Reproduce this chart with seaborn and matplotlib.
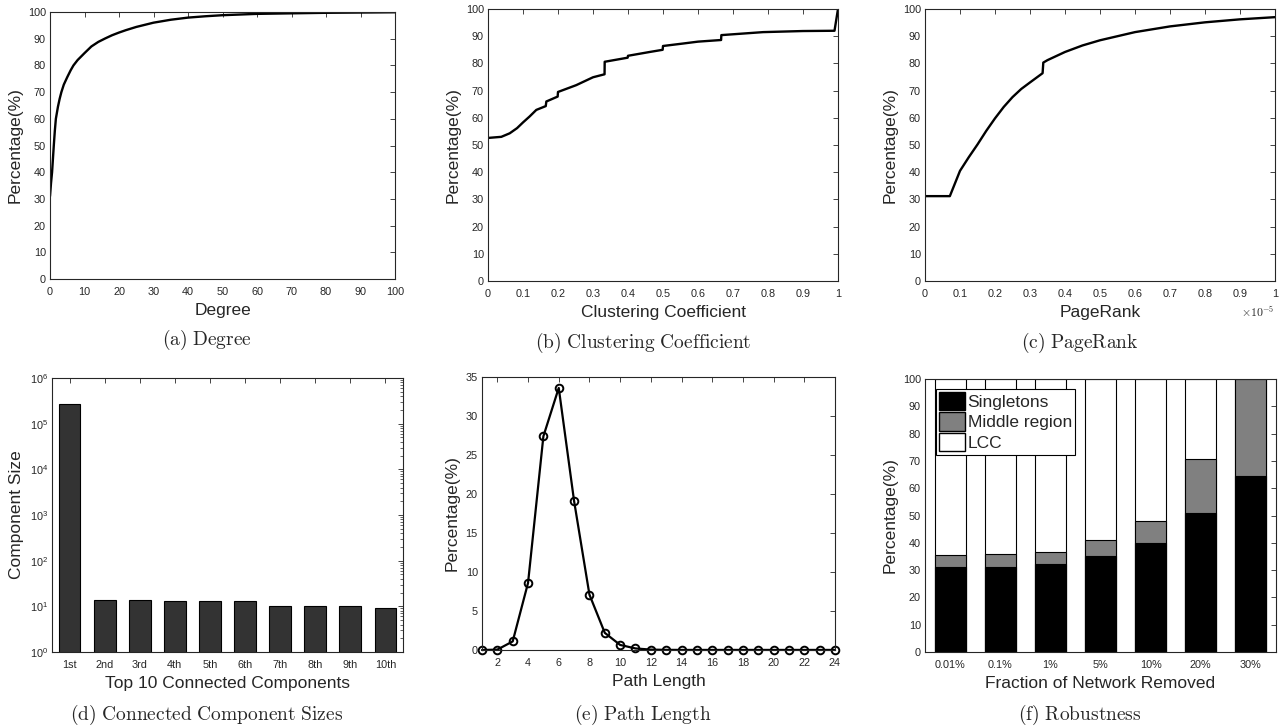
import numpy as np
import matplotlib
matplotlib.use("Agg")
import matplotlib.pyplot as plt
import seaborn as sns
from matplotlib.patches import Patch
from matplotlib.ticker import FuncFormatter, MultipleLocator

# (a) degree CDF
degree_x = [0, 0.3, 0.6, 0.85, 1.1, 1.4, 1.7, 2.3, 2.8, 3.3, 4, 5, 6, 6.8, 8, 10, 12, 14, 16, 18,
            20, 22, 25, 30, 35, 40, 45, 50, 60, 70, 80, 90, 100]
degree_y = [31, 36, 40, 45, 50, 55.5, 60, 64.5, 67.5, 70, 72.8, 75.6, 78.2, 80, 82, 84.6, 87.1, 88.8,
            90.1, 91.3, 92.3, 93.2, 94.4, 96.0, 97.1, 97.9, 98.4, 98.8, 99.3, 99.5, 99.7, 99.8, 99.9]

# (b) clustering coefficient CDF (steps at 1/6, 1/5, 1/3, 2/5, 1/2, 2/3, 1)
cc_x = [0, 0.038, 0.062, 0.083, 0.1, 0.119, 0.138, 0.165, 0.1667, 0.199, 0.2, 0.252, 0.3,
        0.333, 0.3334, 0.386, 0.399, 0.4, 0.462, 0.499, 0.5, 0.557, 0.6, 0.666, 0.6667,
        0.786, 0.9, 0.99, 1.0]
cc_y = [52.6, 53.0, 54.3, 56.2, 58.3, 60.5, 62.9, 64.3, 66.0, 67.8, 69.5, 72.0, 74.9,
        76.0, 80.6, 81.8, 82.1, 82.8, 84.2, 85.0, 86.4, 87.3, 88.0, 88.6, 90.4,
        91.5, 91.9, 92.0, 100]

# (c) pagerank CDF, x in units of 1e-5
pr_x = [0, 0.071, 0.1, 0.125, 0.15, 0.175, 0.2, 0.225, 0.25, 0.275, 0.3, 0.336, 0.338,
        0.35, 0.4, 0.45, 0.5, 0.6, 0.7, 0.8, 0.9, 1.0]
pr_y = [31.2, 31.2, 40.5, 45.5, 50.2, 55.2, 59.8, 64.0, 67.6, 70.6, 73.0, 76.4, 80.3,
        81.2, 84.2, 86.6, 88.5, 91.5, 93.6, 95.1, 96.2, 97.0]

# (d) top-10 connected component sizes
comp_labels = ["1st", "2nd", "3rd", "4th", "5th", "6th", "7th", "8th", "9th", "10th"]
comp_sizes = [270000, 14, 14, 13, 13, 13, 10, 10, 10, 9]

# (e) path length distribution
path_len = list(range(1, 25))
path_pct = [0, 0.05, 1.1, 8.6, 27.4, 33.6, 19.1, 7.1, 2.2, 0.65, 0.2, 0.05,
            0.02, 0.01, 0.01, 0.01, 0.01, 0.01, 0.01, 0.01, 0.01, 0.01, 0.01, 0.01]

# (f) robustness
removed = ["0.01%", "0.1%", "1%", "5%", "10%", "20%", "30%"]
singletons = [31.3, 31.3, 32.1, 35.3, 39.8, 50.8, 64.6]
middle_top = [35.7, 35.9, 36.8, 41.0, 48.1, 70.7, 100]
lcc_top = [100, 100, 100, 100, 100, 100, 100]

sns.set_theme(style="white")
plt.rcParams["font.family"] = ["Liberation Sans", "DejaVu Sans"]
plt.rcParams["mathtext.fontset"] = "cm"
plt.rcParams["axes.edgecolor"] = "#262626"
plt.rcParams["axes.linewidth"] = 0.8

W, H = 1283, 728
fig = plt.figure(figsize=(W / 100, H / 100), dpi=100)


def box(left, top, right, bottom):
    return fig.add_axes([left / W, 1 - bottom / H, (right - left) / W, (bottom - top) / H])


def matlab_style(ax):
    ax.tick_params(direction="in", top=True, right=True, length=3.5, width=0.6,
                   labelsize=7.8, colors="#262626", pad=3)
    ax.tick_params(axis="x", pad=6)
    ax.tick_params(which="minor", direction="in", top=False, right=True, length=2, width=0.5)
    for s in ax.spines.values():
        s.set_color("#262626")
        s.set_linewidth(0.8)


num_fmt = FuncFormatter(lambda v, _: f"{v:g}")
LABEL_SIZE = 12.5

# (a)
ax = box(50, 12, 395, 279)
sns.lineplot(x=degree_x, y=degree_y, estimator=None, sort=False, color="black", linewidth=1.7, ax=ax)
ax.set_xlim(0, 100)
ax.set_ylim(0, 100)
ax.xaxis.set_major_locator(MultipleLocator(10))
ax.yaxis.set_major_locator(MultipleLocator(10))
ax.set_xlabel("Degree", fontsize=LABEL_SIZE)
ax.set_ylabel("Percentage(%)", fontsize=LABEL_SIZE)
matlab_style(ax)

# (b)
ax = box(488, 9, 838, 281)
sns.lineplot(x=cc_x, y=cc_y, estimator=None, sort=False, color="black", linewidth=1.7, ax=ax)
ax.set_xlim(0, 1)
ax.set_ylim(0, 100)
ax.xaxis.set_major_locator(MultipleLocator(0.1))
ax.yaxis.set_major_locator(MultipleLocator(10))
ax.xaxis.set_major_formatter(num_fmt)
ax.set_xlabel("Clustering Coefficient", fontsize=LABEL_SIZE)
ax.set_ylabel("Percentage(%)", fontsize=LABEL_SIZE)
matlab_style(ax)

# (c)
ax = box(925, 9, 1275, 281)
sns.lineplot(x=pr_x, y=pr_y, estimator=None, sort=False, color="black", linewidth=1.7, ax=ax)
ax.set_xlim(0, 1)
ax.set_ylim(0, 100)
ax.xaxis.set_major_locator(MultipleLocator(0.1))
ax.yaxis.set_major_locator(MultipleLocator(10))
ax.xaxis.set_major_formatter(num_fmt)
ax.set_xlabel("PageRank", fontsize=LABEL_SIZE)
ax.set_ylabel("Percentage(%)", fontsize=LABEL_SIZE)
ax.text(1.0, -0.115, r"$\times\mathsf{10^{-5}}$", transform=ax.transAxes, ha="right", va="center",
        fontsize=8.5, color="#262626")
matlab_style(ax)

# (d)
ax = box(52, 378, 403, 652)
sns.barplot(x=comp_labels, y=comp_sizes, color="#333333", saturation=1, width=0.62,
            edgecolor="black", linewidth=0.8, ax=ax)
ax.set_yscale("log")
ax.set_ylim(1, 1e6)
ax.set_xlim(-0.5, 9.5)
ax.set_xlabel("Top 10 Connected Components", fontsize=LABEL_SIZE)
ax.set_ylabel("Component Size", fontsize=LABEL_SIZE)
matlab_style(ax)

# (e)
ax = box(482, 377, 835, 650)
sns.lineplot(x=path_len, y=path_pct, color="black", linewidth=1.6, marker="o", markersize=5.5,
             markerfacecolor="none", markeredgecolor="black", markeredgewidth=1.4, clip_on=False, ax=ax)
ax.set_xlim(1, 24)
ax.set_ylim(0, 35)
ax.set_xticks(list(range(2, 25, 2)))
ax.yaxis.set_major_locator(MultipleLocator(5))
ax.set_xlabel("Path Length", fontsize=LABEL_SIZE)
ax.set_ylabel("Percentage(%)", fontsize=LABEL_SIZE)
matlab_style(ax)

# (f)
ax = box(925, 379, 1276, 652)
for vals, col in [(lcc_top, "white"), (middle_top, "#808080"), (singletons, "black")]:
    sns.barplot(x=removed, y=vals, color=col, saturation=1, width=0.62,
                edgecolor="black", linewidth=0.8, ax=ax)
ax.set_xlim(-0.5, 6.5)
ax.set_ylim(0, 100)
ax.yaxis.set_major_locator(MultipleLocator(10))
ax.set_xlabel("Fraction of Network Removed", fontsize=LABEL_SIZE)
ax.set_ylabel("Percentage(%)", fontsize=LABEL_SIZE)
handles = [Patch(facecolor="black", edgecolor="black", label="Singletons"),
           Patch(facecolor="#808080", edgecolor="black", label="Middle region"),
           Patch(facecolor="white", edgecolor="black", label="LCC")]
leg = ax.legend(handles=handles, loc="upper left", bbox_to_anchor=(0.03, 0.965), fontsize=12.5,
                frameon=True, fancybox=False, edgecolor="black", framealpha=1,
                handlelength=1.5, handleheight=1.25, handletextpad=0.15, borderpad=0.2,
                labelspacing=0.12, borderaxespad=0)
leg.get_frame().set_linewidth(0.8)
matlab_style(ax)

# panel captions
captions = [(207, 340, "(a)\\ Degree"), (643, 343, "(b)\\ Clustering\\ Coefficient"),
            (1080, 343, "(c)\\ PageRank"), (207, 715, "(d)\\ Connected\\ Component\\ Sizes"),
            (643, 715, "(e)\\ Path\\ Length"), (1080, 715, "(f)\\ Robustness")]
for cx, cy, txt in captions:
    fig.text(cx / W, 1 - cy / H, r"$\mathrm{" + txt + "}$", ha="center", va="center", fontsize=14)

fig.savefig("out.png", dpi=100, facecolor="white")
